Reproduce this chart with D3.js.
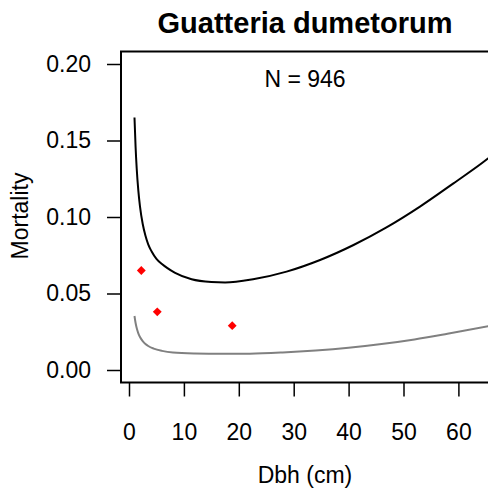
<!DOCTYPE html>
<html>
<head>
<meta charset="utf-8">
<script src="https://cdn.jsdelivr.net/npm/d3@7"></script>
<style>
  html, body { margin: 0; padding: 0; background: #fff; }
  svg { display: block; font-family: "Liberation Sans", Arial, Helvetica, sans-serif; }
</style>
</head>
<body>
<svg id="chart" width="488" height="502"></svg>
<script>
// Fitted mortality curves by diameter class, with observed rates
const upperDbh = [1.0, 1.2, 1.4, 1.7, 2.0, 2.5, 3.0, 3.5, 4.1, 5.0, 6.0, 7.0, 8.4, 11.4, 15.0, 17.5, 22.6, 28.7, 34.8, 40.9, 46.9, 53.0, 59.1, 65.2, 66];
const upperMort = [0.165, 0.1457, 0.1319, 0.1172, 0.107, 0.0954, 0.0877, 0.0821, 0.0776, 0.0727, 0.0693, 0.0666, 0.0635, 0.0593, 0.0575, 0.0572, 0.0593, 0.0643, 0.0719, 0.0817, 0.0932, 0.1068, 0.122, 0.1377, 0.140];
const lowerDbh = [1.0, 1.2, 1.45, 1.7, 2.0, 2.5, 3.0, 3.5, 4.5, 6, 8, 12, 17, 22, 28, 34, 40, 46, 52, 58, 66];
const lowerMort = [0.0353, 0.0307, 0.0268, 0.0240, 0.0216, 0.0189, 0.0170, 0.0157, 0.0140, 0.0125, 0.0114, 0.0108, 0.0106, 0.0107, 0.0115, 0.0128, 0.0146, 0.0170, 0.0200, 0.0237, 0.0290];
const obsDbh = [2.24, 5.15, 18.8];
const obsMort = [0.065, 0.038, 0.029];
const xTicks = [0, 10, 20, 30, 40, 50, 60];
const yTicks = [0, 0.05, 0.10, 0.15, 0.20];
const title = "Guatteria dumetorum";
const nLabel = "N = 946";

const svg = d3.select("#chart");
const x = d3.scaleLinear().domain([0, 60]).range([129, 458.4]);
const y = d3.scaleLinear().domain([0, 0.2]).range([370, 64]);

const box = { left: 121, top: 51.5, bottom: 382.5, right: 520 };

// Curves
const line = d3.line().x(d => x(d[0])).y(d => y(d[1])).curve(d3.curveMonotoneX);
svg.append("path")
  .attr("d", line(d3.zip(upperDbh, upperMort)))
  .attr("fill", "none").attr("stroke", "#000").attr("stroke-width", 2);
svg.append("path")
  .attr("d", line(d3.zip(lowerDbh, lowerMort)))
  .attr("fill", "none").attr("stroke", "#808080").attr("stroke-width", 2);

// Observed points as filled diamonds
svg.selectAll("path.obs").data(d3.zip(obsDbh, obsMort)).join("path")
  .attr("class", "obs")
  .attr("transform", d => `translate(${x(d[0])},${y(d[1])})`)
  .attr("d", d3.symbol(d3.symbolDiamond2, 50)())
  .attr("fill", "#ff0000");

// Plot frame
svg.append("path")
  .attr("d", `M${box.right},${box.top}H${box.left}V${box.bottom}H${box.right}`)
  .attr("fill", "none").attr("stroke", "#000").attr("stroke-width", 2);

// Axes
const xAxis = d3.axisBottom(x).tickValues(xTicks).tickSize(14).tickPadding(27).tickFormat(d3.format("d"));
const gx = svg.append("g").attr("transform", `translate(0,${box.bottom})`).call(xAxis);
gx.select(".domain").remove();
gx.selectAll(".tick line").attr("stroke", "#000").attr("stroke-width", 1.5);
gx.selectAll(".tick text").attr("font-size", 23).attr("fill", "#000").attr("font-family", null);

const yAxis = d3.axisLeft(y).tickValues(yTicks).tickSize(14).tickPadding(16).tickFormat(d3.format(".2f"));
const gy = svg.append("g").attr("transform", `translate(${box.left},0)`).call(yAxis);
gy.select(".domain").remove();
gy.selectAll(".tick line").attr("stroke", "#000").attr("stroke-width", 1.5);
gy.selectAll(".tick text").attr("font-size", 23).attr("fill", "#000").attr("font-family", null);

// Titles and labels
svg.append("text").attr("x", 305).attr("y", 33).attr("text-anchor", "middle")
  .attr("font-size", 29).attr("font-weight", "bold").text(title);
svg.append("text").attr("x", 305).attr("y", 87).attr("text-anchor", "middle")
  .attr("font-size", 23).text(nLabel);
svg.append("text").attr("x", 305).attr("y", 483).attr("text-anchor", "middle")
  .attr("font-size", 23).text("Dbh (cm)");
svg.append("text").attr("transform", "translate(28,216) rotate(-90)").attr("text-anchor", "middle")
  .attr("font-size", 23).text("Mortality");
</script>
</body>
</html>
